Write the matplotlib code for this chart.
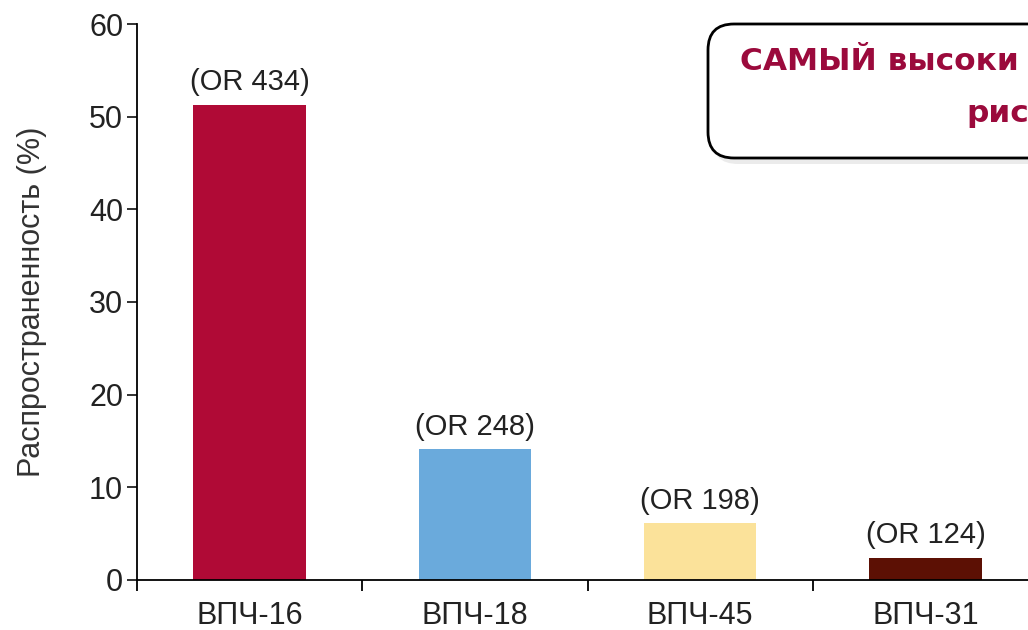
import matplotlib
matplotlib.use('Agg')
import matplotlib.pyplot as plt
from matplotlib.patches import FancyBboxPatch

# data
categories = ['ВПЧ-16', 'ВПЧ-18', 'ВПЧ-45', 'ВПЧ-31']
prevalence = [51.3, 14.1, 6.1, 2.4]
odds_ratio = ['(OR 434)', '(OR 248)', '(OR 198)', '(OR 124)']
colors = ['#b00a36', '#6aaadc', '#fbe29a', '#5c1004']
y_ticks = [0, 10, 20, 30, 40, 50, 60]
note_lines = ['САМЫЙ высоки', 'рис']

plt.rcParams['font.family'] = ['Liberation Sans Narrow', 'Liberation Sans', 'DejaVu Sans']

fig = plt.figure(figsize=(10.28, 6.30), dpi=100)
ax = fig.add_axes([0.1333, 0.0794, 0.8765, 0.8825])

x = range(len(categories))
bars = ax.bar(x, prevalence, width=0.5, color=colors)
ax.bar_label(bars, labels=odds_ratio, padding=6, fontsize=21, color='#222222')

ax.set_xlim(-0.5, len(categories) - 0.5)
ax.set_ylim(0, 60)
ax.set_yticks(y_ticks)
ax.set_xticks(list(x))
ax.set_xticklabels(categories)
ax.set_xticks([i - 0.5 for i in range(len(categories) + 1)], minor=True)
ax.tick_params(axis='x', which='major', length=0, pad=15, labelsize=22, colors='#222222')
ax.tick_params(axis='x', which='minor', length=8, width=1.3, direction='out')
ax.tick_params(axis='y', length=7, width=1.3, labelsize=22, colors='#222222', pad=3)
ax.set_ylabel('Распространенность (%)', fontsize=22, color='#333333', labelpad=30)

for s in ['top', 'right']:
    ax.spines[s].set_visible(False)
ax.spines['left'].set_linewidth(1.3)
ax.spines['bottom'].set_linewidth(1.3)

# note box in pixel coordinates overlay
ov = fig.add_axes([0, 0, 1, 1], facecolor='none')
ov.set_xlim(0, 1028)
ov.set_ylim(630, 0)
ov.axis('off')
shadow = FancyBboxPatch((712, 30), 360, 134, boxstyle='round,pad=0,rounding_size=26',
                        facecolor='#d8d8d8', edgecolor='none', alpha=0.5)
ov.add_patch(shadow)
box = FancyBboxPatch((708, 24), 360, 134, boxstyle='round,pad=0,rounding_size=26',
                     facecolor='white', edgecolor='black', linewidth=2)
ov.add_patch(box)
ov.text(740, 62, note_lines[0], fontsize=22.5, fontweight='bold', color='#9b0a3c',
        family='DejaVu Sans', va='center', ha='left')
ov.text(966, 114, note_lines[1], fontsize=22.5, fontweight='bold', color='#9b0a3c',
        family='DejaVu Sans', va='center', ha='left')

fig.savefig('out.png', dpi=100)
